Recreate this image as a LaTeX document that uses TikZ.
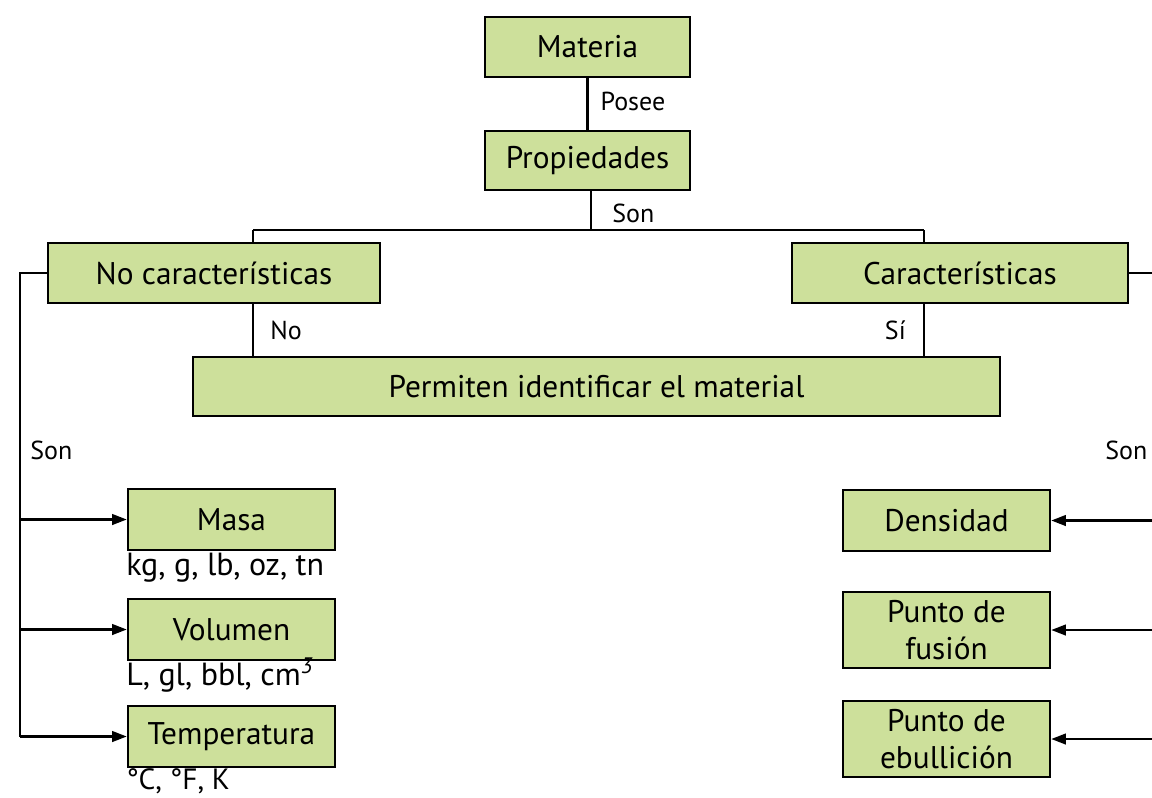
\documentclass[tikz,border=0pt]{standalone}
\usepackage{fontspec}
\setmainfont{PT Sans}
\usetikzlibrary{arrows.meta}
\definecolor{boxgreen}{RGB}{205,224,155}
\tikzset{
  box/.style={draw=black, line width=1.9pt, fill=boxgreen, inner sep=0pt, align=center, font=\fontsize{23.5}{28}\selectfont},
  lbl/.style={inner sep=0pt, font=\fontsize{19.5}{22}\selectfont},
  unit/.style={inner sep=0pt, anchor=west, font=\fontsize{24}{28}\selectfont},
  conn/.style={line width=1.7pt},
  arr/.style={line width=1.7pt, -{Triangle[length=11pt,width=8pt]}}
}
\begin{document}
\begin{tikzpicture}[x=0.75pt,y=-0.75pt]
\useasboundingbox (0,0) rectangle (1152,797);
% boxes
\node[box, minimum width={205*0.75pt}, minimum height={60*0.75pt}] (mat) at (587.5,47) {Materia};
\node[box, minimum width={205*0.75pt}, minimum height={59*0.75pt}] (prop) at (587.5,160.5) {Propiedades};
\node[box, minimum width={332*0.75pt}, minimum height={60*0.75pt}] (noc) at (214,273) {No características};
\node[box, minimum width={336*0.75pt}, minimum height={60*0.75pt}] (car) at (960,273) {Características};
\node[box, minimum width={807*0.75pt}, minimum height={59*0.75pt}] (perm) at (596.5,386.5) {Permiten identificar el material};
\node[box, minimum width={207*0.75pt}, minimum height={61*0.75pt}] (masa) at (231.5,519.5) {Masa};
\node[box, minimum width={207*0.75pt}, minimum height={61*0.75pt}] (vol) at (231.5,629.5) {Volumen};
\node[box, minimum width={207*0.75pt}, minimum height={61*0.75pt}] (temp) at (231.5,736.5) {Temperatura};
\node[box, minimum width={207*0.75pt}, minimum height={61*0.75pt}] (dens) at (946.5,520.5) {Densidad};
\node[box, minimum width={207*0.75pt}, minimum height={76*0.75pt}] (fus) at (946.5,630) {Punto de\\fusión};
\node[box, minimum width={207*0.75pt}, minimum height={76*0.75pt}] (ebu) at (946.5,739) {Punto de\\ebullición};
% coordinates
\coordinate (bar) at (591,230);
\coordinate (lv) at (20,273);
\coordinate (rv) at (1170,273);
% top
\draw[conn] (mat.south) -- (prop.north) node[lbl, pos=0.45, anchor=west, xshift=9pt] {Posee};
\draw[conn] (prop.south -| bar) -- (bar);
\node[lbl, anchor=west] (son1) at (612,213) {Son};
\draw[conn] (253,230) coordinate (bl) -- (924,230) coordinate (br);
\draw[conn] (bl) -- (noc.north -| bl);
\draw[conn] (br) -- (car.north -| br);
\draw[conn] (noc.south -| bl) -- (perm.north -| bl);
\draw[conn] (car.south -| br) -- (perm.north -| br);
\node[lbl, anchor=west] (nolbl) at (270,330) {No};
\node[lbl, anchor=east] (silbl) at (906,330) {Sí};
% left branch
\draw[conn] (noc.west) -- (lv) -- (lv |- temp.west);
\node[lbl, anchor=west] (sonl) at (30,450) {Son};
\draw[arr] (lv |- masa.west) -- (masa.west);
\draw[arr] (lv |- vol.west) -- (vol.west);
\draw[arr] (lv |- temp.west) -- (temp.west);
\node[unit] (u1) at (126,568) {kg, g, lb, oz, tn};
\node[unit] (u2) at (126,675) {L, gl, bbl, cm\textsuperscript{\itshape 3}};
\node[unit, font=\fontsize{22}{26}\selectfont] (u3) at (126,781.5) {°C, °F, K};
% right branch
\draw[conn] (car.east) -- (rv) -- (rv |- ebu.east);
\node[lbl, anchor=west] (sonr) at (1105,450) {Son};
\draw[arr] (rv |- dens.east) -- (dens.east);
\draw[arr] (rv |- fus.east) -- (fus.east);
\draw[arr] (rv |- ebu.east) -- (ebu.east);
\end{tikzpicture}
\end{document}
